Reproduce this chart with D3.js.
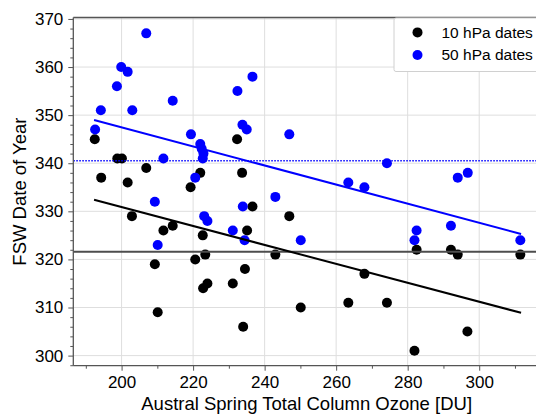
<!DOCTYPE html>
<html>
<head>
<meta charset="utf-8">
<script src="https://cdn.jsdelivr.net/npm/d3@7"></script>
<style>
  body { margin: 0; background: #fff; }
  svg { display: block; font-family: "Liberation Sans", Arial, Helvetica, sans-serif; }
</style>
</head>
<body>
<svg id="chart" width="536" height="416"></svg>
<script>
// Final stratospheric warming dates vs. spring total column ozone
const ozone10 = [192.5, 194.3, 198.8, 200.1, 201.7, 202.9, 206.9, 209.3, 210.1, 211.7,
                 214.3, 219.3, 220.6, 222.0, 222.7, 223.4, 222.8, 224.0, 231.1, 232.3,
                 233.7, 234.5, 234.0, 235.1, 236.6, 243.0, 246.9, 250.1, 263.4, 267.9,
                 274.2, 281.9, 282.5, 292.1, 294.0, 296.7, 311.5];
const fsw10 = [345, 337, 341, 341, 336, 329, 339, 319, 309, 326,
               327, 335, 320, 338, 325, 321, 314, 315, 315, 345,
               338, 318, 306, 326, 331, 321, 329, 310, 311, 317,
               311, 301, 322, 322, 321, 305, 321];
const ozone50 = [192.6, 194.2, 198.7, 199.9, 201.7, 203.0, 206.9, 209.3, 210.1, 211.7,
                 214.3, 219.4, 220.6, 222.0, 222.4, 222.9, 222.7, 223.1, 224.0, 231.1,
                 232.4, 233.8, 235.0, 233.9, 234.4, 236.6, 243.0, 246.9, 250.1, 263.4,
                 267.9, 274.2, 282.5, 281.9, 292.1, 294.0, 296.8, 311.5];
const fsw50 = [347, 351, 356, 360, 359, 351, 367, 332, 323, 341,
               353, 346, 337, 344, 343, 342, 341, 329, 328, 326,
               355, 348, 347, 331, 324, 358, 333, 346, 324, 336,
               335, 340, 326, 324, 327, 337, 338, 324];

// Linear fits (ozone range endpoints) and mean dates
const fitOzone = [192.3, 311.7];
const fit10 = [332.4, 308.9];
const fit50 = [349.0, 325.3];
const mean10 = 321.6;
const mean50 = 340.5;

const xTicks = [200, 220, 240, 260, 280, 300];
const xMinorTicks = [190, 210, 230, 250, 270, 290, 310];
const yTicks = [300, 310, 320, 330, 340, 350, 360, 370];
const yMinorTicks = d3.range(298, 371, 2).filter(v => v % 10 !== 0);

const seriesNames = ["10 hPa dates", "50 hPa dates"];
const seriesColors = ["#000000", "#0000ff"];

const svg = d3.select("#chart");
const mLeft = 73.3, mRight = 540, mTop = 17.5, mBottom = 365.7;
const dotR = 5;

const x = d3.scaleLinear().domain([186.5, 317]).range([mLeft, mRight]);
const y = d3.scaleLinear().domain([297.9, 370.3]).range([mBottom, mTop]);

const plot = svg.append("g");

// grid
plot.append("g").selectAll("line").data(xTicks).join("line")
  .attr("x1", d => x(d)).attr("x2", d => x(d))
  .attr("y1", mTop).attr("y2", mBottom)
  .attr("stroke", "#dedede").attr("stroke-width", 1);
plot.append("g").selectAll("line").data(yTicks).join("line")
  .attr("x1", mLeft).attr("x2", mRight)
  .attr("y1", d => y(d)).attr("y2", d => y(d))
  .attr("stroke", "#dedede").attr("stroke-width", 1);

// scatter points
const pts10 = ozone10.map((o, i) => [o, fsw10[i]]);
const pts50 = ozone50.map((o, i) => [o, fsw50[i]]);
plot.append("g").selectAll("circle").data(pts10).join("circle")
  .attr("cx", d => x(d[0])).attr("cy", d => y(d[1])).attr("r", dotR)
  .attr("fill", seriesColors[0]);
plot.append("g").selectAll("circle").data(pts50).join("circle")
  .attr("cx", d => x(d[0])).attr("cy", d => y(d[1])).attr("r", dotR)
  .attr("fill", seriesColors[1]);

// mean lines
plot.append("line")
  .attr("x1", mLeft).attr("x2", mRight)
  .attr("y1", y(mean10)).attr("y2", y(mean10))
  .attr("stroke", "#4d4d4d").attr("stroke-width", 2);
plot.append("line")
  .attr("x1", mLeft).attr("x2", mRight)
  .attr("y1", y(mean50)).attr("y2", y(mean50))
  .attr("stroke", "#0000ff").attr("stroke-width", 1.5)
  .attr("stroke-dasharray", "1.5,1.5");

// fit lines
const line = d3.line().x(d => x(d[0])).y(d => y(d[1]));
plot.append("path").datum(fitOzone.map((o, i) => [o, fit10[i]]))
  .attr("d", line).attr("fill", "none").attr("stroke", "#000").attr("stroke-width", 2);
plot.append("path").datum(fitOzone.map((o, i) => [o, fit50[i]]))
  .attr("d", line).attr("fill", "none").attr("stroke", "#0000ff").attr("stroke-width", 2);

// axes
const axisColor = "#555";
function styleAxis(g) {
  g.select(".domain").remove();
  g.selectAll(".tick line").attr("stroke", axisColor).attr("stroke-width", 1);
  g.selectAll(".tick text").attr("fill", "#000");
}

const xAxis = svg.append("g").attr("transform", `translate(0,${mBottom})`)
  .call(d3.axisBottom(x).tickValues(xTicks).tickSize(5).tickPadding(5).tickFormat(d3.format("d")));
styleAxis(xAxis);
xAxis.selectAll(".tick text").attr("font-size", 17);
const xMinor = svg.append("g").attr("transform", `translate(0,${mBottom})`)
  .call(d3.axisBottom(x).tickValues(xMinorTicks).tickSize(3).tickFormat(""));
styleAxis(xMinor);

const yAxis = svg.append("g").attr("transform", `translate(${mLeft},0)`)
  .call(d3.axisLeft(y).tickValues(yTicks).tickSize(5).tickPadding(5).tickFormat(d3.format("d")));
styleAxis(yAxis);
yAxis.selectAll(".tick text").attr("font-size", 17);
const yMinor = svg.append("g").attr("transform", `translate(${mLeft},0)`)
  .call(d3.axisLeft(y).tickValues(yMinorTicks).tickSize(3).tickFormat(""));
styleAxis(yMinor);

// spines
svg.append("line").attr("x1", mLeft).attr("x2", mLeft).attr("y1", mTop).attr("y2", mBottom)
  .attr("stroke", axisColor).attr("stroke-width", 1.3);
svg.append("line").attr("x1", mLeft).attr("x2", mRight).attr("y1", mBottom).attr("y2", mBottom)
  .attr("stroke", axisColor).attr("stroke-width", 1.3);
svg.append("line").attr("x1", mLeft).attr("x2", mRight).attr("y1", mTop).attr("y2", mTop)
  .attr("stroke", axisColor).attr("stroke-width", 1.3);

// axis titles
svg.append("text")
  .attr("x", (mLeft + mRight) / 2).attr("y", 410)
  .attr("text-anchor", "middle").attr("font-size", 18.5).attr("fill", "#000")
  .text("Austral Spring Total Column Ozone [DU]");
svg.append("text")
  .attr("transform", `translate(25.5,${(mTop + mBottom) / 2}) rotate(-90)`)
  .attr("text-anchor", "middle").attr("font-size", 18.5).attr("fill", "#000")
  .text("FSW Date of Year");

// legend
const legend = svg.append("g");
legend.append("rect")
  .attr("x", 394).attr("y", mTop + 0.5).attr("width", 160).attr("height", 53.5)
  .attr("rx", 2).attr("fill", "#fff").attr("stroke", "#d0d0d0").attr("stroke-width", 1);
seriesNames.forEach((name, i) => {
  const cy = 32.4 + i * 22.6;
  legend.append("circle").attr("cx", 417.5).attr("cy", cy).attr("r", dotR).attr("fill", seriesColors[i]);
  legend.append("text").attr("x", 441.5).attr("y", cy).attr("dy", "0.35em")
    .attr("font-size", 15.5).attr("fill", "#000").text(name);
});
</script>
</body>
</html>
